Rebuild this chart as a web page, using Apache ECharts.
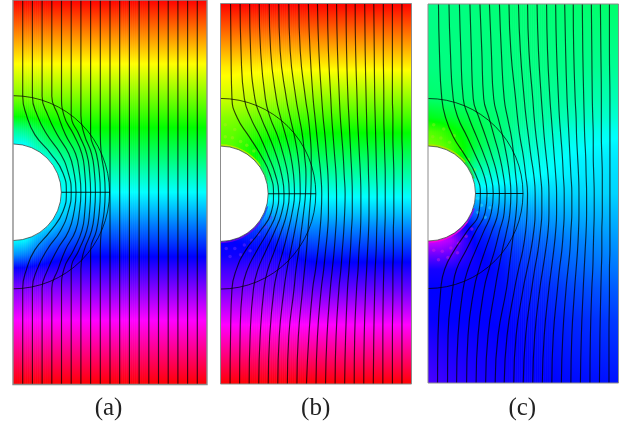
<!DOCTYPE html>
<html><head><meta charset="utf-8">
<style>html,body{margin:0;padding:0;background:#fff}#c{width:637px;height:429px}</style>
<script src="https://cdn.jsdelivr.net/npm/echarts@6/dist/echarts.min.js"></script>
</head><body><div id="c"></div>
<script>
// ---- Panel captions
const captions = ['(a)', '(b)', '(c)'];

// ---- Stations for the colour field (domain units: x 0..4, y 0..8)
const hueCols = [0, .25, .5, .75, 1, 1.25, 1.5, 1.75, 2, 2.5, 3, 4];
const hueRows = [8, 6.67, 6, 5.6, 5.3, 5, 4.7, 4.4, 4, 3.6, 3.3, 3, 2.7, 2.4, 2, 1.33, 0];

// ---- Hue, one row per hueRows entry
const aHue = [
 [0,0,0,0,0,0,0,0,0,0,0,0],
 [60,60,60,60,60,60,60,60,60,60,60,60],
 [90,90,90,90,90,90,90,90,90,90,90,90],
 [117,117,113,112,110,108,108,108,108,108,108,108],
 [155,150,140,130,126,122,122,122,122,122,122,122],
 [180,178,160,148,142,138,135,135,135,135,135,135],
 [180,180,180,172,158,152,149,148,148,148,148,148],
 [180,180,180,180,172,166,163,162,162,162,162,162],
 [180,180,180,180,180,180,180,180,180,180,180,180],
 [180,180,180,180,188,194,197,198,198,198,198,198],
 [180,180,180,188,202,208,211,212,212,212,212,212],
 [180,182,200,212,218,222,225,225,225,225,225,225],
 [205,210,220,230,234,238,238,238,238,238,238,238],
 [243,243,247,248,250,252,252,252,252,252,252,252],
 [270,270,270,270,270,270,270,270,270,270,270,270],
 [300,300,300,300,300,300,300,300,300,300,300,300],
 [360,360,360,360,360,360,360,360,360,360,360,360]];
const bHue = [
 [0,0,0,0,0,0,0,0,0,0,0,0],
 [55,55,56,56,57,57,57,57,57,57,57,57],
 [72,73,75,77,80,83,85,87,87,87,87,87],
 [88,89,92,95,98,101,103,105,105,105,105,105],
 [96,97,102,108,112,115,117,118,119,119,119,119],
 [100,100,110,120,126,129,131,132,132,132,132,132],
 [110,110,110,122,140,144,146,146,146,146,146,146],
 [130,130,130,130,148,156,158,159,159,159,159,159],
 [165,165,165,165,172,174,176,177,177,177,177,177],
 [200,200,200,200,200,198,196,194,194,194,194,194],
 [225,225,225,225,218,214,211,208,208,208,208,208],
 [240,240,238,235,238,232,226,223,221,221,221,221],
 [243,243,243,243,245,243,240,236,234,234,234,234],
 [255,255,255,255,255,252,250,248,247,247,247,247],
 [268,268,268,268,266,265,265,264,264,264,264,264],
 [296,296,296,296,296,296,296,296,296,296,296,296],
 [360,360,360,360,360,360,360,360,360,360,360,360]];
const cHue = [
 [152,151,150,150,149,148,148,147,147,147,146,145],
 [150,150,150,150,150,150,150,150,150,151,152,155],
 [145,146,147,147,148,149,150,151,152,155,158,163],
 [125,128,132,136,140,144,148,151,155,159,164,170],
 [100,105,115,125,135,142,148,154,160,166,172,178],
 [90,95,105,120,135,145,152,160,165,172,178,183],
 [90,95,105,125,150,155,160,166,172,177,182,186],
 [110,120,130,145,165,170,172,175,178,181,184,188],
 [170,170,175,180,188,188,189,190,190,190,190,190],
 [260,250,240,225,215,210,208,206,204,201,198,196],
 [285,280,265,245,232,226,220,215,212,208,204,200],
 [290,288,280,255,238,234,228,224,220,215,210,204],
 [265,265,262,250,242,238,234,230,226,220,214,208],
 [245,245,245,243,242,240,237,233,230,224,218,212],
 [240,240,240,240,240,239,238,236,234,230,224,218],
 [242,241,240,240,240,240,239,239,238,235,231,226],
 [258,255,252,250,248,246,245,244,242,240,238,236]];

// ---- Stations for the black curves: x of each curve at these y values
const lineY = [8, 7, 6, 5.6, 5.2, 4.8, 4.4, 4, 3.6, 3.2, 2.8, 2.4, 2, 1, 0];

const aLines = [
 [.2,.2,.2,.28,.45,.78,1.03,1.1,1.03,.78,.45,.28,.2,.2,.2],
 [.4,.4,.4,.5,.7,.98,1.14,1.2,1.14,.98,.7,.5,.4,.4,.4],
 [.6,.6,.6,.72,.91,1.15,1.26,1.3,1.26,1.15,.91,.72,.6,.6,.6],
 [.8,.8,.8,.93,1.08,1.29,1.37,1.4,1.37,1.29,1.08,.93,.8,.8,.8],
 [1,1,1,1.05,1.25,1.42,1.48,1.5,1.48,1.42,1.25,1.05,1,1,1],
 [1.2,1.2,1.2,1.2,1.36,1.52,1.58,1.6,1.58,1.52,1.36,1.2,1.2,1.2,1.2],
 [1.4,1.4,1.4,1.4,1.47,1.62,1.68,1.7,1.68,1.62,1.47,1.4,1.4,1.4,1.4],
 [1.6,1.6,1.6,1.6,1.6,1.72,1.78,1.8,1.78,1.72,1.6,1.6,1.6,1.6,1.6],
 [1.8,1.8,1.8,1.8,1.8,1.82,1.88,1.9,1.88,1.82,1.8,1.8,1.8,1.8,1.8],
 [2,2,2,2,2,2,2,2,2,2,2,2,2,2,2],
 [2.2,2.2,2.2,2.2,2.2,2.2,2.2,2.2,2.2,2.2,2.2,2.2,2.2,2.2,2.2],
 [2.4,2.4,2.4,2.4,2.4,2.4,2.4,2.4,2.4,2.4,2.4,2.4,2.4,2.4,2.4],
 [2.6,2.6,2.6,2.6,2.6,2.6,2.6,2.6,2.6,2.6,2.6,2.6,2.6,2.6,2.6],
 [2.8,2.8,2.8,2.8,2.8,2.8,2.8,2.8,2.8,2.8,2.8,2.8,2.8,2.8,2.8],
 [3,3,3,3,3,3,3,3,3,3,3,3,3,3,3],
 [3.2,3.2,3.2,3.2,3.2,3.2,3.2,3.2,3.2,3.2,3.2,3.2,3.2,3.2,3.2],
 [3.4,3.4,3.4,3.4,3.4,3.4,3.4,3.4,3.4,3.4,3.4,3.4,3.4,3.4,3.4],
 [3.6,3.6,3.6,3.6,3.6,3.6,3.6,3.6,3.6,3.6,3.6,3.6,3.6,3.6,3.6],
 [3.8,3.8,3.8,3.8,3.8,3.8,3.8,3.8,3.8,3.8,3.8,3.8,3.8,3.8,3.8]];

const bLines = [
 [.21,.22,.24,.35,.6,.85,1.04,1.11,1.06,.82,.52,.33,.24,.21,.2],
 [.41,.43,.5,.63,.83,1,1.15,1.22,1.17,.99,.76,.56,.46,.41,.4],
 [.61,.63,.72,.85,1.02,1.17,1.28,1.33,1.28,1.13,.95,.78,.69,.62,.6],
 [.81,.84,.94,1.04,1.2,1.32,1.41,1.44,1.39,1.27,1.13,.99,.91,.83,.8],
 [1.02,1.05,1.17,1.26,1.37,1.47,1.53,1.55,1.5,1.41,1.31,1.2,1.12,1.03,1],
 [1.22,1.25,1.38,1.46,1.55,1.62,1.66,1.67,1.62,1.55,1.47,1.39,1.33,1.23,1.2],
 [1.43,1.46,1.58,1.65,1.72,1.76,1.79,1.78,1.74,1.69,1.64,1.58,1.54,1.43,1.4],
 [1.64,1.67,1.78,1.84,1.88,1.9,1.9,1.89,1.86,1.83,1.8,1.76,1.72,1.63,1.6],
 [1.84,1.875,1.94,1.98,2.02,2.06,2.1,2.12,2.11,2.08,2.04,1.99,1.93,1.85,1.8],
 [2.03,2.06,2.12,2.15,2.19,2.22,2.25,2.26,2.26,2.24,2.2,2.16,2.11,2.03,2],
 [2.24,2.26,2.31,2.33,2.36,2.39,2.42,2.43,2.43,2.41,2.38,2.34,2.3,2.23,2.2],
 [2.43,2.45,2.49,2.51,2.54,2.57,2.59,2.61,2.6,2.58,2.55,2.52,2.48,2.42,2.4],
 [2.63,2.64,2.67,2.69,2.71,2.73,2.75,2.76,2.76,2.74,2.72,2.69,2.66,2.62,2.6],
 [2.82,2.83,2.86,2.87,2.89,2.91,2.93,2.94,2.94,2.93,2.9,2.88,2.85,2.81,2.8],
 [3.02,3.03,3.05,3.06,3.07,3.09,3.1,3.11,3.11,3.1,3.08,3.06,3.04,3.01,3],
 [3.21,3.22,3.23,3.24,3.25,3.26,3.27,3.28,3.28,3.27,3.26,3.24,3.23,3.21,3.2],
 [3.41,3.41,3.42,3.42,3.43,3.44,3.45,3.45,3.45,3.44,3.43,3.42,3.41,3.4,3.4],
 [3.6,3.6,3.6,3.61,3.61,3.62,3.63,3.63,3.63,3.62,3.62,3.61,3.61,3.6,3.6],
 [3.8,3.8,3.8,3.8,3.8,3.81,3.81,3.81,3.81,3.81,3.81,3.8,3.8,3.8,3.8]];

const cLines = [
 [.22,.24,.29,.37,.53,.78,1,1.1,1.07,.82,.55,.35,.27,.21,.2],
 [.44,.47,.53,.63,.82,1,1.17,1.24,1.2,1,.8,.6,.52,.42,.41],
 [.66,.69,.74,.86,1.02,1.18,1.31,1.37,1.33,1.17,1,.84,.74,.63,.6],
 [.88,.91,.95,1.07,1.21,1.34,1.45,1.5,1.47,1.34,1.2,1.07,.97,.84,.81],
 [1.09,1.13,1.17,1.28,1.39,1.5,1.58,1.62,1.6,1.5,1.4,1.28,1.18,1.05,1.01],
 [1.29,1.33,1.38,1.47,1.57,1.65,1.71,1.74,1.72,1.65,1.56,1.48,1.41,1.26,1.21],
 [1.5,1.54,1.6,1.67,1.75,1.8,1.84,1.87,1.85,1.8,1.75,1.7,1.65,1.47,1.41],
 [1.7,1.74,1.84,1.88,1.93,2,2.05,2.09,2.08,2.05,1.99,1.9,1.82,1.66,1.6],
 [1.9,1.94,2.02,2.06,2.11,2.16,2.22,2.25,2.25,2.22,2.16,2.08,2,1.85,1.8],
 [2.09,2.12,2.2,2.23,2.27,2.32,2.36,2.39,2.39,2.36,2.31,2.24,2.18,2.05,2],
 [2.29,2.32,2.38,2.41,2.44,2.48,2.52,2.54,2.54,2.52,2.47,2.41,2.35,2.24,2.2],
 [2.49,2.51,2.56,2.59,2.62,2.65,2.68,2.7,2.7,2.68,2.64,2.59,2.54,2.44,2.4],
 [2.68,2.7,2.74,2.76,2.79,2.82,2.84,2.86,2.86,2.84,2.81,2.76,2.72,2.63,2.6],
 [2.87,2.89,2.92,2.94,2.96,2.98,3,3.02,3.02,3,2.98,2.94,2.9,2.83,2.8],
 [3.05,3.06,3.09,3.11,3.12,3.14,3.16,3.17,3.17,3.16,3.14,3.11,3.08,3.02,3],
 [3.24,3.25,3.27,3.28,3.29,3.31,3.32,3.33,3.33,3.32,3.3,3.28,3.26,3.22,3.2],
 [3.43,3.44,3.45,3.46,3.47,3.47,3.48,3.49,3.49,3.48,3.47,3.46,3.44,3.41,3.4],
 [3.62,3.63,3.64,3.64,3.64,3.65,3.66,3.66,3.66,3.65,3.65,3.64,3.63,3.61,3.6],
 [3.81,3.81,3.82,3.82,3.82,3.82,3.82,3.82,3.82,3.82,3.82,3.81,3.81,3.8,3.8]];

// ---- Hole and outer circle: centre x, centre y, radius
const holeCircle = [0, 4, 1];
const outerCircle = [0, 4, 2];
// ---- Radial segment across the annulus
const radialLine = [[1, 4], [2, 4]];

// ---- Thin coloured rims along the hole: from angle, to angle (degrees), colour
const bRims = [[90, 35, '#c8e800'], [35, 15, '#30e060'], [-35, -90, '#7000e8'], [-15, -35, '#2040f8']];
const cRims = [[90, 40, '#b8e000'], [40, 18, '#30d040'], [-35, -90, '#ff00d8'], [-18, -35, '#9000ff']];

// ---- Speckle: x, y
const bSpeckUp = [[.1,5.2],[.25,5.18],[.42,5.1],[.1,5.45],[.3,5.35],[.55,5.02],[.7,4.9]];
const bSpeckDown = [[.12,2.85],[.3,2.85],[.5,2.92],[.65,3.02],[.8,3.15],[.95,3.3],[1.05,3.5],[.2,2.68],[.42,2.72],[.62,2.8]];
const cSpeckUp = [[.1,5.2],[.27,5.17],[.45,5.08],[.12,5.45],[.33,5.36],[.55,5.22],[.7,4.92],[.85,4.72],[.98,4.5]];
const cSpeckMid = [[1.05,4.25],[1.12,4.1],[1.05,3.9],[1.12,3.75],[1.22,4.35],[1.25,3.95],[1.3,3.7],[1.05,3.6],[1.2,3.5]];
const cSpeckDown = [[.12,2.8],[.3,2.78],[.48,2.85],[.64,2.95],[.8,3.1],[.92,3.25],[.22,2.6],[.42,2.65],[.62,2.75]];

// ---- Frames: [left, top, width, height] of each panel on the page
const frames = [[13, -.5, 194, 385], [220.5, 3.5, 191, 380.5], [428, 4, 190.5, 379]];
const captionX = [108.5, 315.7, 522.3];

function hueRgb(h) {
  h = ((h % 360) + 360) % 360;
  const s = h / 60, i = Math.floor(s), f = s - i;
  const v = [[1,f,0],[1-f,1,0],[0,1,f],[0,1-f,1],[f,0,1],[1,0,1-f]][i];
  return 'rgb(' + v.map(c => Math.round(c * 255)).join(',') + ')';
}
function fieldStops(hues) {
  const span = hueRows[0] - hueRows[hueRows.length - 1], stops = [];
  hues.forEach((h, r) => {
    const off = (hueRows[0] - hueRows[r]) / span;
    stops.push({ offset: off, color: hueRgb(h) });
    if (r + 1 < hues.length) {
      const h2 = hues[r + 1], o2 = (hueRows[0] - hueRows[r + 1]) / span;
      const lo = Math.min(h, h2), hi = Math.max(h, h2);
      for (let k = Math.ceil(lo / 60 + 1e-6) * 60; k < hi; k += 60) {
        stops.push({ offset: off + (k - h) / (h2 - h) * (o2 - off), color: hueRgb(k) });
      }
    }
  });
  return stops;
}
function fieldSeries(g, table) {
  return {
    type: 'custom', xAxisIndex: g, yAxisIndex: g, z: 1, silent: true, clip: true,
    coordinateSystem: 'cartesian2d',
    encode: { x: 0, y: 1 },
    data: hueCols.slice(0, -1).map((x, i) => [x, 4, hueCols[i + 1]]),
    renderItem(p, api) {
      const x0 = api.value(0), x1 = api.value(2);
      const i = hueCols.indexOf(x0);
      const top = api.coord([0, 8])[1], bot = api.coord([0, 0])[1];
      const a = api.coord([x0, 4])[0], b = api.coord([x1, 4])[0];
      const n = Math.max(1, Math.round((b - a) / 2));
      const kids = [];
      for (let k = 0; k < n; k++) {
        const t = (k + .5) / n;
        const hues = table.map(row => row[i] + (row[i + 1] - row[i]) * t);
        const xa = a + (b - a) * k / n;
        kids.push({
          type: 'rect',
          shape: { x: xa, y: top, width: (b - a) / n + .6, height: bot - top },
          style: { fill: new echarts.graphic.LinearGradient(0, top, 0, bot, fieldStops(hues), true) }
        });
      }
      return { type: 'group', children: kids };
    }
  };
}
function arcEl(api, c, from, to, style, dr) {
  const o = api.coord([c[0], c[1]]);
  const sz = api.size([c[2], c[2]]);
  const r = (sz[0] + sz[1]) / 2 + (dr || 0);
  return { type: 'arc', shape: { cx: o[0], cy: o[1], r, startAngle: -from * Math.PI / 180, endAngle: -to * Math.PI / 180, clockwise: true }, style };
}
function holeSeries(g, rims) {
  return {
    type: 'custom', xAxisIndex: g, yAxisIndex: g, z: 3, silent: true, clip: true,
    data: [holeCircle],
    renderItem(p, api) {
      const o = api.coord([holeCircle[0], holeCircle[1]]);
      const sz = api.size([holeCircle[2], holeCircle[2]]);
      const r = (sz[0] + sz[1]) / 2;
      const kids = rims.map(m => arcEl(api, holeCircle, m[0], m[1], { stroke: m[2], fill: null, lineWidth: 1.5, opacity: .85 }, 1));
      kids.push({ type: 'circle', shape: { cx: o[0], cy: o[1], r }, style: { fill: '#fff' } });
      kids.push(arcEl(api, holeCircle, 90, -90, { stroke: 'rgba(50,50,50,.7)', fill: null, lineWidth: 1 }));
      return { type: 'group', children: kids };
    }
  };
}
function outerSeries(g) {
  return {
    type: 'custom', xAxisIndex: g, yAxisIndex: g, z: 5, silent: true, clip: true,
    data: [outerCircle],
    renderItem(p, api) {
      return arcEl(api, outerCircle, 90, -90, { stroke: 'rgba(0,0,0,.72)', fill: null, lineWidth: 1 });
    }
  };
}
function frameSeries(g) {
  return {
    type: 'custom', xAxisIndex: g, yAxisIndex: g, z: 8, silent: true, clip: false,
    data: [[0, 0, 4, 8]],
    renderItem(p, api) {
      const a = api.coord([api.value(0), api.value(3)]), b = api.coord([api.value(2), api.value(1)]);
      return { type: 'rect', shape: { x: a[0], y: a[1], width: b[0] - a[0], height: b[1] - a[1] },
        style: { fill: null, stroke: '#8c8c8c', lineWidth: g === 0 ? 1.4 : 1 } };
    }
  };
}
function curveSeries(g, xs) {
  return {
    type: 'line', xAxisIndex: g, yAxisIndex: g, z: 6, silent: true, symbol: 'none',
    smooth: .5,
    lineStyle: { color: 'rgba(0,0,0,.72)', width: 1.15 },
    data: xs.map((x, i) => [x, lineY[i]])
  };
}
function radialSeries(g) {
  return {
    type: 'line', xAxisIndex: g, yAxisIndex: g, z: 6, silent: true, symbol: 'none',
    lineStyle: { color: 'rgba(0,0,0,.85)', width: 1 }, data: radialLine
  };
}
function speckSeries(g, pts, color) {
  return {
    type: 'scatter', xAxisIndex: g, yAxisIndex: g, z: 2, silent: true, symbolSize: 3.5,
    itemStyle: { color, opacity: .45 }, data: pts
  };
}

const series = [
  fieldSeries(0, aHue), fieldSeries(1, bHue), fieldSeries(2, cHue),
  speckSeries(1, bSpeckUp, '#a8ee20'), speckSeries(1, bSpeckDown, '#7030ff'),
  speckSeries(2, cSpeckUp, '#90ee20'), speckSeries(2, cSpeckMid, '#30e8ff'), speckSeries(2, cSpeckDown, '#d020e0'),
  holeSeries(0, []), holeSeries(1, bRims), holeSeries(2, cRims),
  outerSeries(0), outerSeries(1), outerSeries(2),
  radialSeries(0), radialSeries(1), radialSeries(2),
  frameSeries(0), frameSeries(1), frameSeries(2)
];
[aLines, bLines, cLines].forEach((ls, g) => ls.forEach(xs => series.push(curveSeries(g, xs))));

const chart = echarts.init(document.getElementById('c'), null, { renderer: 'canvas' });
chart.setOption({
  animation: false,
  backgroundColor: '#fff',
  graphic: captions.map((t, i) => ({
    type: 'text', x: captionX[i], y: 408, silent: true,
    style: { text: t, align: 'center', verticalAlign: 'middle', textAlign: 'center', textVerticalAlign: 'middle',
      font: 'normal 25px "Liberation Serif", serif', fill: '#222' }
  })),
  grid: frames.map(f => ({ left: f[0], top: f[1], width: f[2], height: f[3], containLabel: false })),
  xAxis: frames.map((f, i) => ({ type: 'value', gridIndex: i, min: 0, max: 4, show: false })),
  yAxis: frames.map((f, i) => ({ type: 'value', gridIndex: i, min: 0, max: 8, show: false })),
  series
});
</script></body></html>
